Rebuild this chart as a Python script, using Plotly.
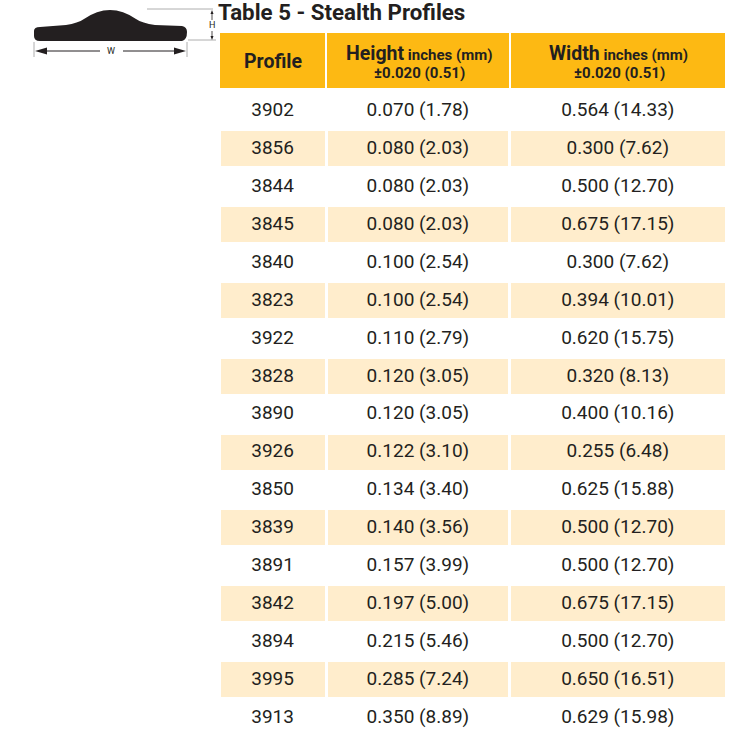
import plotly.graph_objects as go

title = "Table 5 - Stealth Profiles"
col_profile = "Profile"
col_height = "Height"
col_width = "Width"
unit = "inches (mm)"
tolerance = "±0.020 (0.51)"

profiles = ["3902","3856","3844","3845","3840","3823","3922","3828","3890","3926","3850","3839","3891","3842","3894","3995","3913"]
heights = ["0.070 (1.78)","0.080 (2.03)","0.080 (2.03)","0.080 (2.03)","0.100 (2.54)","0.100 (2.54)","0.110 (2.79)","0.120 (3.05)","0.120 (3.05)","0.122 (3.10)","0.134 (3.40)","0.140 (3.56)","0.157 (3.99)","0.197 (5.00)","0.215 (5.46)","0.285 (7.24)","0.350 (8.89)"]
widths = ["0.564 (14.33)","0.300 (7.62)","0.500 (12.70)","0.675 (17.15)","0.300 (7.62)","0.394 (10.01)","0.620 (15.75)","0.320 (8.13)","0.400 (10.16)","0.255 (6.48)","0.625 (15.88)","0.500 (12.70)","0.500 (12.70)","0.675 (17.15)","0.500 (12.70)","0.650 (16.51)","0.629 (15.98)"]

FONT = "Roboto"
GOLD = "#FDB913"
TINT = "#FFEDCC"
INK = "#231F20"
CLEAR = "rgba(0,0,0,0)"
row_fill = ["white" if i % 2 == 0 else TINT for i in range(len(profiles))]
blank = [""] * len(profiles)

def head(name):
    return (f"<b><span style='font-size:19.5px'>{name}</span> "
            f"<span style='font-size:15px'>{unit}</span></b>")

W, H = 743, 732
columnwidth = [107, 183, 216]
x_dom = [219/W, 727/W]
fig = go.Figure()
# row bands
fig.add_trace(go.Table(
    domain=dict(x=x_dom, y=[0, 1-92/H]),
    columnwidth=columnwidth,
    header=dict(values=["", "", ""], height=0, fill_color=CLEAR, line=dict(color=CLEAR, width=0)),
    cells=dict(values=[blank, blank, blank], fill_color=[row_fill]*3,
               line=dict(color="white", width=3), height=37.9),
))
# row text
fig.add_trace(go.Table(
    domain=dict(x=x_dom, y=[0, 1-94/H]),
    columnwidth=columnwidth,
    header=dict(values=["", "", ""], height=0, fill_color=CLEAR, line=dict(color=CLEAR, width=0)),
    cells=dict(
        values=[profiles, heights, widths],
        fill_color=CLEAR, line=dict(color=CLEAR, width=0),
        font=dict(family=FONT, size=19, color=INK), align="center",
        height=37.9),
))
# gold header band
fig.add_trace(go.Table(
    domain=dict(x=x_dom, y=[1-90/H, 1-32/H]),
    columnwidth=columnwidth,
    header=dict(values=["", "", ""], fill_color=GOLD, line=dict(color="white", width=2),
                font=dict(family=FONT, size=14, color=INK), align="center", height=57),
))

icon = ("M 34,31 Q 34,27 40,27 L 66,25 Q 78,23 84,19 Q 97,10 110,10 Q 123,10 136,19 "
        "Q 142,23 155,25 L 182,26 Q 187,27 187,32 Q 187,40 182,41 L 40,41 Q 34,41 34,36 Z")
shapes = [
    dict(type="path", path=icon, fillcolor="#231F20", line=dict(width=0)),
    dict(type="line", x0=147, x1=213, y0=9, y1=9, line=dict(color="#999", width=0.8)),
    dict(type="line", x0=188, x1=216, y0=40, y1=40, line=dict(color="#999", width=0.8)),
    dict(type="line", x0=34, x1=34, y0=42, y1=57, line=dict(color="#999", width=0.8)),
    dict(type="line", x0=187, x1=187, y0=42, y1=57, line=dict(color="#999", width=0.8)),
    dict(type="line", x0=44, x1=100, y0=51, y1=51, line=dict(color="#231F20", width=1)),
    dict(type="line", x0=123, x1=178, y0=51, y1=51, line=dict(color="#231F20", width=1)),
    dict(type="path", path="M 35,51 L 47,47.5 L 47,54.5 Z", fillcolor="#231F20", line=dict(width=0)),
    dict(type="path", path="M 186,51 L 174,47.5 L 174,54.5 Z", fillcolor="#231F20", line=dict(width=0)),
    dict(type="line", x0=212, x1=212, y0=13, y1=20, line=dict(color="#231F20", width=0.8)),
    dict(type="line", x0=212, x1=212, y0=31, y1=38, line=dict(color="#231F20", width=0.8)),
    dict(type="path", path="M 212,10 L 210.5,14 L 213.5,14 Z", fillcolor="#231F20", line=dict(width=0)),
    dict(type="path", path="M 212,40 L 210.5,36 L 213.5,36 Z", fillcolor="#231F20", line=dict(width=0)),
]
for s in shapes:
    s.update(xref="x", yref="y", layer="above")

def label(x, y, text, size, **kw):
    return dict(x=x, y=y, xref="x", yref="y", text=text, showarrow=False,
                font=dict(family=FONT, size=size, color=INK), **kw)

fig.update_layout(
    width=W, height=H, autosize=False,
    margin=dict(l=0, r=0, t=0, b=0),
    paper_bgcolor="white", plot_bgcolor="rgba(0,0,0,0)",
    xaxis=dict(range=[0, W], visible=False, fixedrange=True, domain=[0, 1]),
    yaxis=dict(range=[H, 0], visible=False, fixedrange=True, domain=[0, 1]),
    shapes=shapes,
    annotations=[
        label(216, 12, f"<b>{title}</b>", 22.3, xanchor="left", yanchor="middle"),
        label(272.5, 61, f"<b>{col_profile}</b>", 19.5),
        label(418.5, 53, head(col_height), 15),
        label(419, 73, f"<b>{tolerance}</b>", 15),
        label(618.5, 53, head(col_width), 15),
        label(619, 73, f"<b>{tolerance}</b>", 15),
        label(111, 51, "W", 9),
        label(212, 25, "H", 9),
    ],
)
fig.add_trace(go.Scatter(x=[], y=[], xaxis="x", yaxis="y", showlegend=False, hoverinfo="skip"))
fig.write_html("out.html", config=dict(displayModeBar=False),
               post_script="document.body.style.margin='0';")
